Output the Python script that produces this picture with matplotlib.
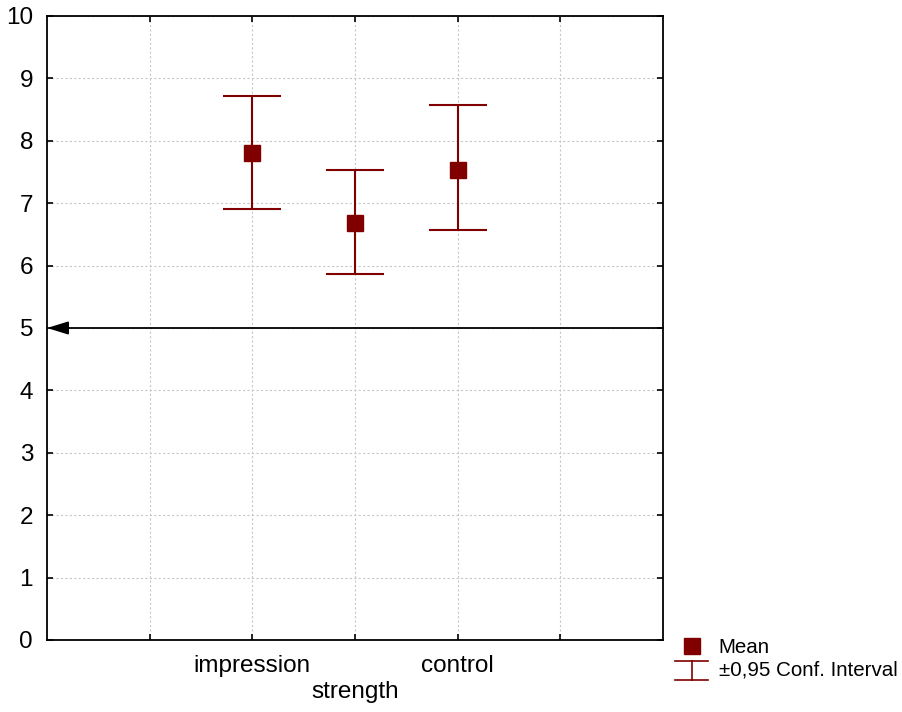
import matplotlib
matplotlib.use("Agg")
import matplotlib.pyplot as plt
from matplotlib.lines import Line2D
from matplotlib.legend_handler import HandlerBase
import numpy as np

categories = ["impression", "strength", "control"]
positions = [2, 3, 4]
means = [7.80, 6.69, 7.54]
ci_lower = [6.90, 5.87, 6.57]
ci_upper = [8.72, 7.53, 8.57]
ref_value = 5

plt.rcParams['font.family'] = ['Liberation Sans', 'DejaVu Sans']
color = "#800000"

fig = plt.figure(figsize=(9.03, 7.12), dpi=100)
ax = fig.add_axes([47/903, 72/712, 616/903, 624/712])

means_a = np.array(means)
yerr = np.vstack([means_a - np.array(ci_lower), np.array(ci_upper) - means_a])
ax.errorbar(positions, means, yerr=yerr, fmt='none', ecolor=color, elinewidth=1.5,
            capsize=21, capthick=1.5, zorder=3)
ax.plot(positions, means, 's', color=color, markersize=12, zorder=4)

ax.annotate("", xy=(0, ref_value), xytext=(6, ref_value),
            arrowprops=dict(arrowstyle="-|>,head_length=1.3,head_width=0.4",
                            color="black", lw=1.3, shrinkA=0, shrinkB=0),
            zorder=5)

ax.set_xlim(0, 6)
ax.set_ylim(0, 10)
ax.set_xticks([1, 2, 3, 4, 5])
ax.set_xticklabels(["", categories[0], "\n" + categories[1], categories[2], ""])
ax.set_yticks(range(0, 11))
ax.grid(True, color="#c8c8c8", linestyle=(0, (2, 2)), linewidth=0.8)
ax.set_axisbelow(True)
ax.tick_params(direction='in', length=4, width=1.2, labelsize=17.5,
               top=True, right=True)
ax.tick_params(axis='x', pad=11)
ax.tick_params(axis='y', pad=10)
for s in ax.spines.values():
    s.set_linewidth(1.3)


class CIHandle:
    pass


class HandlerCI(HandlerBase):
    def create_artists(self, legend, orig_handle, xdescent, ydescent, width, height, fontsize, trans):
        x0, x1 = -xdescent, -xdescent + width
        xm = (x0 + x1) / 2
        y0, y1 = -ydescent - height * 0.25, -ydescent + height * 1.05
        arts = [
            Line2D([x0, x1], [y0, y0], color=color, lw=1.2, transform=trans),
            Line2D([x0, x1], [y1, y1], color=color, lw=1.2, transform=trans),
            Line2D([xm, xm], [y0, y1], color=color, lw=1.2, transform=trans),
        ]
        return arts


mean_handle = Line2D([], [], marker='s', color=color, linestyle='none', markersize=12)
fig.legend([mean_handle, CIHandle()], ["Mean", "±0,95 Conf. Interval"], loc='lower left',
           bbox_to_anchor=(675/903, 32/712), frameon=False, fontsize=14.8,
           borderpad=0, borderaxespad=0, handlelength=1.62, handletextpad=0.5,
           labelspacing=0.2, handler_map={CIHandle: HandlerCI()})

fig.savefig("out.png", dpi=100)
